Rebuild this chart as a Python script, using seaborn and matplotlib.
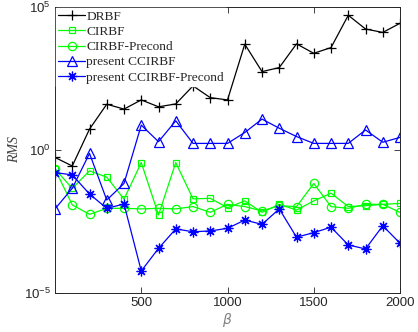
import numpy as np
import pandas as pd
import matplotlib
matplotlib.use("Agg")
import matplotlib.pyplot as plt
import seaborn as sns

sns.set_style("ticks")

# beta values and log10(RMS)
beta = list(range(0, 2001, 100))

drbf = [-0.26, -0.56, 0.73, 1.60, 1.43, 1.75, 1.51, 1.61, 2.24, 1.83, 1.75,
        3.70, 2.74, 2.88, 3.71, 3.38, 3.58, 4.71, 4.23, 4.11, 4.43]
cirbf = [-0.67, -1.34, -0.73, -0.95, -1.72, -0.44, -2.27, -0.44, -1.71, -1.69, -2.02,
         -1.78, -2.18, -1.90, -2.10, -1.78, -1.51, -1.98, -1.95, -1.90, -1.87]
cirbf_pre = [-0.67, -1.92, -2.25, -2.04, -2.04, -2.06, -2.04, -2.06, -1.98, -2.18, -1.90,
             -1.98, -2.13, -1.95, -1.98, -1.17, -1.98, -2.04, -1.90, -1.90, -2.18]
ccirbf = [-2.06, -1.34, -0.12, -1.75, -1.17, 0.87, 0.29, 1.02, 0.23, 0.23, 0.23,
          0.61, 1.08, 0.76, 0.47, 0.23, 0.23, 0.23, 0.70, 0.27, 0.44]
ccirbf_pre = [-0.79, -0.87, -1.54, -2.04, -1.89, -4.23, -3.44, -2.76, -2.86, -2.83, -2.74,
              -2.45, -2.60, -2.06, -3.05, -2.89, -2.70, -3.32, -3.46, -2.65, -3.26]

series = [
    ("DRBF", drbf, "black", "+", 7),
    ("CIRBF", cirbf, "#00ff00", "s", 5),
    ("CIRBF-Precond", cirbf_pre, "#00ff00", "o", 6),
    ("present CCIRBF", ccirbf, "blue", "^", 7),
    ("present CCIRBF-Precond", ccirbf_pre, "blue", (8, 2, 0), 7),
]

fig = plt.figure(figsize=(4.18, 3.32), dpi=100)
ax = fig.add_axes([0.1316, 0.1175, 0.8254, 0.8615])

for name, vals, col, mk, ms in series:
    df = pd.DataFrame({"beta": beta, "rms": 10.0 ** np.array(vals)})
    sns.lineplot(data=df, x="beta", y="rms", ax=ax, color=col, marker=mk,
                 markersize=ms, markerfacecolor="none", markeredgecolor=col,
                 markeredgewidth=0.9, linewidth=0.9, label=name)

ax.set_yscale("log")
ax.set_xlim(0, 2000)
ax.set_ylim(1e-5, 1e5)
ax.set_yticks([1e-5, 1e0, 1e5])
ax.yaxis.set_minor_locator(matplotlib.ticker.NullLocator())
ax.set_xticks([500, 1000, 1500, 2000])
ax.tick_params(direction="in", top=True, right=True, length=4, width=0.6,
               labelsize=9.5, labelcolor="#262626", pad=3)
for sp in ax.spines.values():
    sp.set_linewidth(0.7)
    sp.set_color("#262626")
for lbl in ax.get_xticklabels() + ax.get_yticklabels():
    lbl.set_family("Liberation Sans")

ax.set_xlabel(r"$\beta$", fontsize=10, color="#808080", labelpad=1)
ax.set_ylabel("RMS", family="Liberation Serif", style="italic", fontsize=10,
              color="#404040", labelpad=2)

leg = ax.legend(loc="upper left", prop={"family": "Liberation Serif", "size": 9.6},
                frameon=True, fancybox=False, framealpha=1, edgecolor="white",
                borderaxespad=0.1, labelspacing=0.22, handlelength=2.0,
                handletextpad=0.1, borderpad=0.15)

fig.savefig("out.png", dpi=100)
